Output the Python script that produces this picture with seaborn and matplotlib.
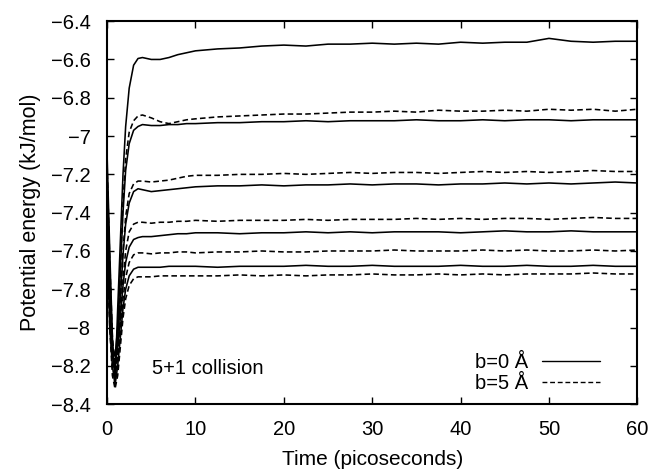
import matplotlib
matplotlib.use("Agg")
import matplotlib.pyplot as plt
import matplotlib.ticker as mticker
import numpy as np
import pandas as pd
import seaborn as sns

# time grid (ps): dense at the start, then every 2.5 ps
time_early = [0, 0.3, 0.6, 0.9, 1.2, 1.5, 1.8, 2.1, 2.5, 3, 3.5, 4, 5, 6, 7, 8, 9]
time_late = [10, 12.5, 15, 17.5, 20, 22.5, 25, 27.5, 30, 32.5, 35, 37.5,
             40, 42.5, 45, 47.5, 50, 52.5, 55, 57.5, 60]
time = time_early + time_late

# solid curves (b=0 A), top to bottom
s1 = [-7.10, -7.60, -8.05, -8.28, -7.90, -7.55, -7.20, -6.95, -6.75, -6.63, -6.595, -6.59, -6.60, -6.60, -6.59, -6.575, -6.565,
      -6.555, -6.545, -6.54, -6.53, -6.525, -6.53, -6.52, -6.52, -6.515, -6.52, -6.515, -6.52, -6.51, -6.515, -6.51, -6.51, -6.49, -6.505, -6.51, -6.505, -6.505]
s2 = [-7.20, -7.70, -8.10, -8.15, -8.00, -7.70, -7.40, -7.18, -7.04, -6.97, -6.95, -6.94, -6.945, -6.945, -6.94, -6.94, -6.935,
      -6.935, -6.93, -6.93, -6.925, -6.925, -6.92, -6.925, -6.92, -6.92, -6.92, -6.915, -6.92, -6.92, -6.915, -6.92, -6.915, -6.915, -6.92, -6.915, -6.915, -6.915]
s3 = [-7.30, -7.80, -8.15, -8.20, -8.05, -7.85, -7.62, -7.46, -7.35, -7.29, -7.275, -7.28, -7.29, -7.285, -7.28, -7.275, -7.27,
      -7.265, -7.26, -7.26, -7.255, -7.26, -7.255, -7.255, -7.25, -7.255, -7.25, -7.25, -7.255, -7.25, -7.25, -7.245, -7.25, -7.245, -7.25, -7.245, -7.24, -7.245]
s4 = [-7.40, -7.90, -8.15, -8.20, -8.10, -7.95, -7.78, -7.66, -7.58, -7.54, -7.53, -7.525, -7.525, -7.52, -7.515, -7.51, -7.51,
      -7.505, -7.505, -7.51, -7.505, -7.505, -7.50, -7.505, -7.50, -7.505, -7.50, -7.50, -7.50, -7.505, -7.50, -7.495, -7.50, -7.50, -7.495, -7.50, -7.50, -7.50]
s5 = [-7.50, -8.00, -8.20, -8.30, -8.20, -8.05, -7.90, -7.80, -7.73, -7.695, -7.685, -7.685, -7.685, -7.685, -7.68, -7.68, -7.68,
      -7.68, -7.685, -7.68, -7.68, -7.68, -7.675, -7.68, -7.68, -7.675, -7.68, -7.68, -7.68, -7.675, -7.68, -7.68, -7.675, -7.68, -7.68, -7.675, -7.68, -7.68]

# dashed curves (b=5 A), top to bottom
d1 = [-7.15, -7.65, -8.05, -8.20, -8.05, -7.70, -7.35, -7.12, -6.98, -6.92, -6.895, -6.89, -6.905, -6.925, -6.935, -6.925, -6.915,
      -6.91, -6.90, -6.895, -6.89, -6.885, -6.885, -6.88, -6.875, -6.875, -6.87, -6.875, -6.865, -6.87, -6.87, -6.865, -6.87, -6.86, -6.865, -6.86, -6.87, -6.86]
d2 = [-7.25, -7.75, -8.10, -8.20, -8.10, -7.85, -7.60, -7.42, -7.30, -7.25, -7.235, -7.235, -7.24, -7.235, -7.23, -7.22, -7.21,
      -7.205, -7.205, -7.20, -7.20, -7.195, -7.20, -7.195, -7.19, -7.195, -7.19, -7.19, -7.195, -7.19, -7.185, -7.19, -7.185, -7.19, -7.185, -7.18, -7.185, -7.185]
d3 = [-7.35, -7.85, -8.15, -8.25, -8.15, -7.95, -7.75, -7.60, -7.50, -7.46, -7.45, -7.45, -7.455, -7.45, -7.45, -7.445, -7.445,
      -7.44, -7.445, -7.44, -7.44, -7.44, -7.435, -7.44, -7.435, -7.435, -7.435, -7.43, -7.435, -7.43, -7.435, -7.43, -7.43, -7.435, -7.43, -7.425, -7.43, -7.43]
d4 = [-7.45, -7.95, -8.20, -8.25, -8.15, -8.00, -7.85, -7.74, -7.66, -7.62, -7.61, -7.61, -7.615, -7.61, -7.61, -7.605, -7.605,
      -7.61, -7.605, -7.605, -7.60, -7.605, -7.605, -7.60, -7.60, -7.60, -7.595, -7.60, -7.60, -7.60, -7.595, -7.60, -7.595, -7.60, -7.60, -7.595, -7.60, -7.595]
d5 = [-7.55, -8.00, -8.25, -8.32, -8.25, -8.10, -7.95, -7.85, -7.78, -7.745, -7.735, -7.735, -7.735, -7.73, -7.73, -7.73, -7.73,
      -7.73, -7.73, -7.725, -7.73, -7.725, -7.73, -7.725, -7.725, -7.72, -7.725, -7.725, -7.72, -7.725, -7.72, -7.725, -7.72, -7.72, -7.72, -7.715, -7.72, -7.72]

label_b0 = "b=0 Å"
label_b5 = "b=5 Å"
curves = {"s1": (label_b0, s1), "s2": (label_b0, s2), "s3": (label_b0, s3),
          "s4": (label_b0, s4), "s5": (label_b0, s5),
          "d1": (label_b5, d1), "d2": (label_b5, d2), "d3": (label_b5, d3),
          "d4": (label_b5, d4), "d5": (label_b5, d5)}

rows = []
for name, (b, vals) in curves.items():
    for t, e in zip(time, vals):
        rows.append((name, b, t, e))
df = pd.DataFrame(rows, columns=["curve", "b", "time", "energy"])

sns.set_style("ticks")
plt.rcParams["font.family"] = ["Liberation Sans", "DejaVu Sans"]
plt.rcParams["text.color"] = "black"
plt.rcParams["axes.labelcolor"] = "black"

fig = plt.figure(figsize=(6.53, 4.70), dpi=100)
ax = fig.add_axes([0.164, 0.140, 0.812, 0.815])

sns.lineplot(data=df, x="time", y="energy", units="curve", estimator=None,
             style="b", style_order=[label_b0, label_b5],
             dashes={label_b0: "", label_b5: (3.5, 2)},
             color="black", linewidth=1.15, ax=ax, sort=False)

ax.set_xlim(0, 60)
ax.set_ylim(-8.4, -6.4)
ax.set_xticks(np.arange(0, 61, 10))
ax.set_yticks(np.arange(-8.4, -6.39, 0.2))
fmt = mticker.FuncFormatter(lambda v, p: f"{round(v, 1):g}".replace("-", "\u2212"))
ax.yaxis.set_major_formatter(fmt)
ax.tick_params(direction="in", top=True, right=True, length=5, width=1,
               labelsize=14.5, colors="black")
ax.tick_params(axis="y", pad=12)
ax.tick_params(axis="x", pad=11.5)
for sp in ax.spines.values():
    sp.set_linewidth(1.5)
    sp.set_color("black")

ax.set_xlabel("Time (picoseconds)", fontsize=15, labelpad=8, color="black")
ax.set_ylabel("Potential energy (kJ/mol)", fontsize=15.5, labelpad=7, color="black")

ax.text(0.085, 0.094, "5+1 collision", transform=ax.transAxes, fontsize=14.5,
        va="center", ha="left", color="black")

handles, labels = ax.get_legend_handles_labels()
keep = [(h, l) for h, l in zip(handles, labels) if l in (label_b0, label_b5)]
leg = ax.legend([h for h, l in keep], [l for h, l in keep], loc="lower right",
                bbox_to_anchor=(0.93, 0.03), frameon=False, markerfirst=False,
                handlelength=2.9, fontsize=14.5, labelspacing=0.1,
                handletextpad=0.7, borderaxespad=0, borderpad=0)
for txt in leg.get_texts():
    txt.set_color("black")
for line in leg.get_lines():
    line.set_linewidth(1.0)

fig.savefig("out.png", dpi=100)
